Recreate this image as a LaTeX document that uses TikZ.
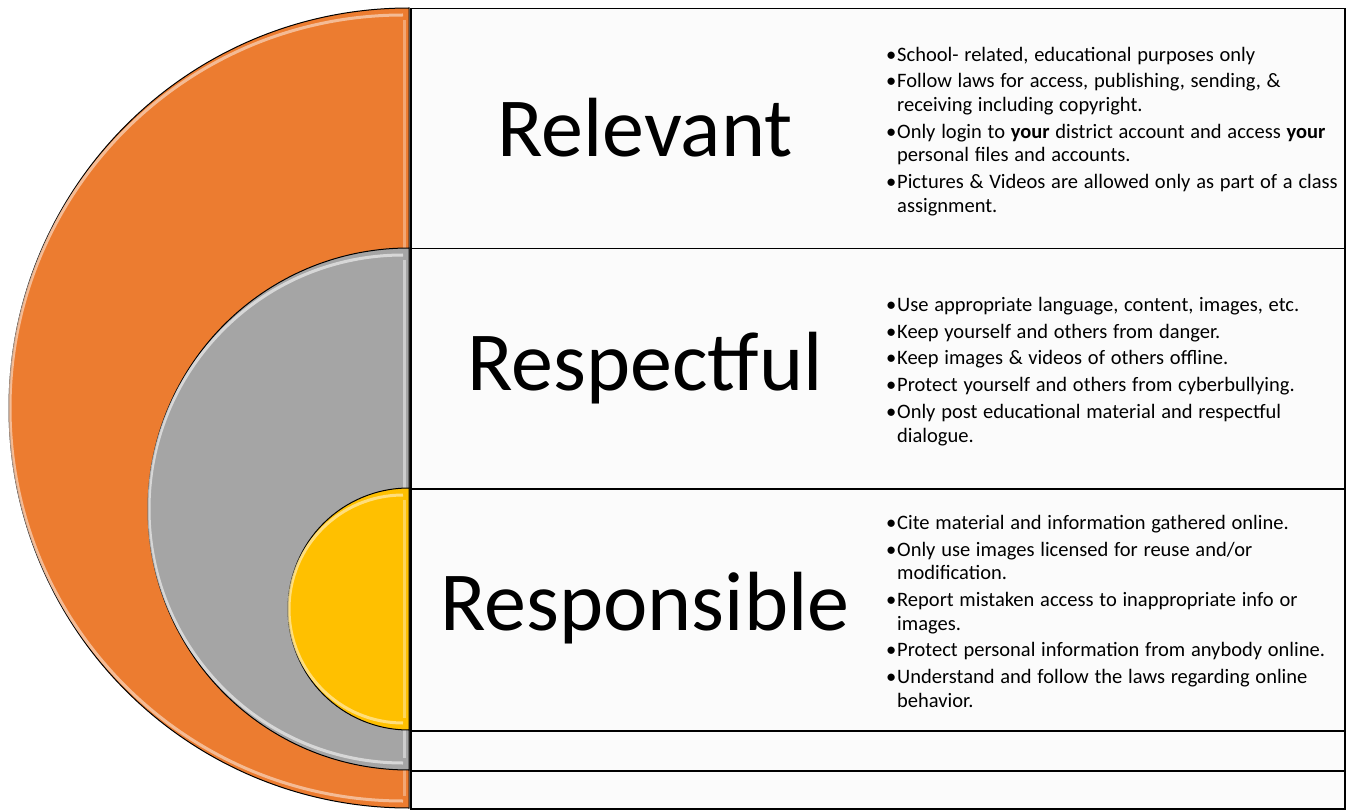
\documentclass[tikz,border=0pt]{standalone}
\usepackage{fontspec}
\setmainfont{Carlito}
\usetikzlibrary{positioning}

\definecolor{orangeA}{HTML}{EC7C30}
\definecolor{grayA}{HTML}{A5A5A5}
\definecolor{yellowA}{HTML}{FFC000}
\definecolor{boxfill}{HTML}{FBFBFB}

\newcommand{\bulletfont}{\fontsize{20.5}{23.6}\selectfont\setlength{\parskip}{3.2pt}}
\newcommand{\itm}[1]{\par\spaceskip=0.28em\hangindent=11pt\hangafter=1\noindent\makebox[11pt][l]{\textbullet}#1\par}

\begin{document}
\begin{tikzpicture}[
                x=1pt, y=-1pt,
                rowbox/.style={
                    draw=black,
                    line width=1.5pt,
                    fill=boxfill,
                    inner sep=0pt,
                    anchor=north west,
                    minimum width=934pt,
                },
                halfdisc/.style={
                    draw=black,
                    line width=1pt,
                },
                gloss/.style={
                    line width=3pt,
                    opacity=0.75,
                },
                title/.style={
                    font=\fontsize{84}{90}\selectfont,
                    anchor=center,
                },
                bullets/.style={
                    font=\bulletfont,
                    text width=470pt,
                    align=left,
                    anchor=west,
                    inner sep=0pt,
                },
            ]
            \useasboundingbox (0,0) rectangle (1347,810);

            \node[rowbox, minimum height=240pt] (relbox) at (410,8) {};
            \node[rowbox, minimum height=240pt] (resbox) at (410,248) {};
            \node[rowbox, minimum height=242pt] (ponbox) at (410,488) {};
            \node[rowbox, minimum height=40pt] (gapA) at (410,730) {};
            \node[rowbox, minimum height=38pt] (gapB) at (410,770) {};

            \filldraw[halfdisc, fill=orangeA] (409,8) arc[start angle=270, end angle=90, radius=400] -- cycle;
            \draw[gloss, orangeA!35!white] (403,15) arc[start angle=270, end angle=90, radius=393];
            \draw[gloss, orangeA!45!white, opacity=0.6] (404,20) -- (404,796);

            \filldraw[halfdisc, fill=grayA] (409,248) arc[start angle=270, end angle=90, radius=261] -- cycle;
            \draw[gloss, grayA!25!white] (403,255) arc[start angle=270, end angle=90, radius=254];
            \draw[gloss, grayA!25!white, opacity=0.6] (404,260) -- (404,758);

            \filldraw[halfdisc, fill=yellowA] (409,488) arc[start angle=270, end angle=90, radius=121] -- cycle;
            \draw[gloss, yellowA!35!white] (403,495) arc[start angle=270, end angle=90, radius=114];
            \draw[gloss, yellowA!40!white, opacity=0.6] (404,500) -- (404,718);

            \node[title] (relevant) at (645,128) {Relevant};
            \node[title] (respectful) at (645,368) {Respectful};
            \node[title] (responsible) at (645,608) {Responsible};

            \node[bullets] (relitems) at (886,125) {%
                \itm{School- related, educational purposes only}
                \itm{Follow laws for access, publishing, sending, \&\newline receiving including copyright.}
                \itm{Only login to \textbf{your} district account and access \textbf{your}\newline personal files and accounts.}
                \itm{Pictures \& Videos are allowed only as part of a class\newline assignment.}};

            \node[bullets] (resitems) at (886,365) {%
                \itm{Use appropriate language, content, images, etc.}
                \itm{Keep yourself and others from danger.}
                \itm{Keep images \& videos of others offline.}
                \itm{Protect yourself and others from cyberbullying.}
                \itm{Only post educational material and respectful\newline dialogue.}};

            \node[bullets] (ponitems) at (886,605) {%
                \itm{Cite material and information gathered online.}
                \itm{Only use images licensed for reuse and/or\newline modification.}
                \itm{Report mistaken access to inappropriate info or\newline images.}
                \itm{Protect personal information from anybody online.}
                \itm{Understand and follow the laws regarding online\newline behavior.}};
        \end{tikzpicture}
\end{document}
